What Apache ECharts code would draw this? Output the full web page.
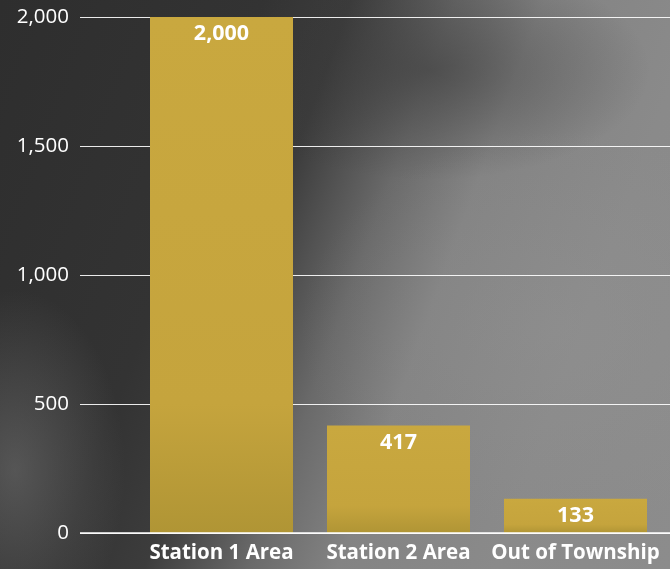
<!DOCTYPE html>
<html>
<head>
<meta charset="utf-8">
<script src="https://cdn.jsdelivr.net/npm/echarts@6/dist/echarts.min.js"></script>
<style>
html,body{margin:0;padding:0;}
#bg{position:absolute;left:0;top:0;width:670px;height:569px;
background:
 radial-gradient(ellipse 110px 180px at 15px 470px, rgba(115,115,115,0.55), rgba(115,115,115,0) 100%),
 radial-gradient(ellipse 260px 200px at 560px 330px, rgba(150,150,150,0.3), rgba(150,150,150,0) 100%),
 radial-gradient(ellipse 220px 110px at 430px 70px, rgba(55,55,55,0.55), rgba(55,55,55,0) 100%),
 linear-gradient(110deg, #2e2e2e 0%, #333333 30%, #3c3c3c 40%, #6a6a6a 52%, #838383 62%, #8a8a8a 80%, #8c8c8c 100%);}
#chart{position:absolute;left:0;top:0;width:670px;height:569px;}
</style>
</head>
<body>
<div id="bg"></div>
<div id="chart"></div>
<script>
const categories = ["Station 1 Area", "Station 2 Area", "Out of Township"];
const values = [2000, 417, 133];
const yTicks = [0, 500, 1000, 1500, 2000];

const chart = echarts.init(document.getElementById('chart'), null, {renderer: 'canvas'});
const fmt = v => v.toLocaleString('en-US');
const font = '"Open Sans","Noto Sans",sans-serif';
chart.setOption({
  backgroundColor: 'transparent',
  animation: false,
  grid: [
    {left: 80, right: 0, top: 17, bottom: 36},
    {left: 133, right: 6, top: 17, bottom: 36}
  ],
  xAxis: [
    {type: 'category', gridIndex: 0, data: categories, show: false},
    {type: 'category', gridIndex: 1, data: categories,
     axisLine: {show: false}, axisTick: {show: false},
     axisLabel: {color: '#ffffff', fontWeight: 'bold', fontSize: 20.5, fontFamily: font, margin: 10, interval: 0}}
  ],
  yAxis: [
    {type: 'value', gridIndex: 0, min: yTicks[0], max: yTicks[yTicks.length-1], interval: 500,
     axisLine: {show: false}, axisTick: {show: false},
     axisLabel: {color: '#ffffff', fontSize: 20.5, fontFamily: font, margin: 11, formatter: v => fmt(v)},
     splitLine: {lineStyle: {color: 'rgba(255,255,255,0.9)', width: 1}}},
    {type: 'value', gridIndex: 1, min: 0, max: 2000, interval: 500, show: false}
  ],
  series: [
    {type: 'bar', xAxisIndex: 0, yAxisIndex: 0, data: []},
    {type: 'bar', xAxisIndex: 1, yAxisIndex: 1, data: values, barWidth: 143,
     itemStyle: {color: {type: 'linear', x: 0, y: 0, x2: 0, y2: 1, colorStops: [
       {offset: 0, color: '#c9a83f'}, {offset: 0.75, color: '#c5a43d'}, {offset: 1, color: '#b09535'}]}},
     label: {show: true, position: 'insideTop', distance: 6, color: '#ffffff', fontWeight: 'bold',
       fontSize: 21.5, fontFamily: font, formatter: p => fmt(p.value)}},
    {type: 'line', xAxisIndex: 0, yAxisIndex: 0, data: [],
     markLine: {silent: true, symbol: 'none', label: {show: false},
       lineStyle: {color: '#ffffff', width: 1.5, type: 'solid'}, data: [{yAxis: 0}]}}
  ]
});
</script>
</body>
</html>
